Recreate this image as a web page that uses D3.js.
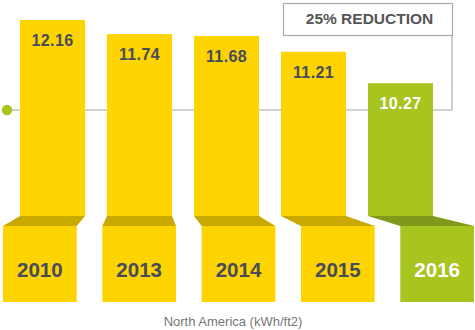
<!DOCTYPE html>
<html>
<head>
<meta charset="utf-8">
<script src="https://cdn.jsdelivr.net/npm/d3@7/dist/d3.min.js"></script>
<style>
  html, body { margin: 0; padding: 0; background: #fff; }
  svg { display: block; font-family: "Liberation Sans", Arial, Helvetica, sans-serif; }
</style>
</head>
<body>
<svg id="chart" width="475" height="330"></svg>
<script>
// Energy intensity, North America (kWh/ft2)
const years = ["2010", "2013", "2014", "2015", "2016"];
const values = [12.16, 11.74, 11.68, 11.21, 10.27];
const highlightYear = "2016";
const calloutText = "25% REDUCTION";
const captionText = "North America (kWh/ft2)";

const W = 475, H = 330;
const svg = d3.select("#chart");

const COLORS = {
  bar: "#FDD400", barFold: "#C9A800",
  hi: "#A8C41E", hiFold: "#7F991A",
  text: "#474B5B", line: "#A8A8A8", caption: "#777"
};

// Layout
const barBottom = 216, foldBottom = 226, boxBottom = 302;
const refY = 110;

// Upper bars and lower year tabs use two band scales
const xBar = d3.scaleBand().domain(years).range([20, 433]).paddingInner(0.253).paddingOuter(0);
const xTab = d3.scaleBand().domain(years).range([3, 474]).paddingInner(0.258).paddingOuter(0);
const y = d3.scaleLinear().domain([6.3, 12.4]).range([barBottom, 12]);

const data = years.map((yr, i) => ({ year: yr, value: values[i], hi: yr === highlightYear }));

// Reference line with the callout box (drawn behind the bars)
const box = { x0: 283, x1: 452, y0: 3, y1: 35 };
svg.append("path")
  .attr("d", `M7,${refY}H${box.x1}V${box.y1}`)
  .attr("fill", "none").attr("stroke", COLORS.line).attr("stroke-width", 1.2);
svg.append("rect")
  .attr("x", box.x0 + 0.5).attr("y", box.y0 + 0.5)
  .attr("width", box.x1 - box.x0).attr("height", box.y1 - box.y0)
  .attr("fill", "#fff").attr("stroke", COLORS.line).attr("stroke-width", 1.2);
svg.append("text")
  .attr("x", (box.x0 + box.x1) / 2 + 2).attr("y", 24)
  .attr("text-anchor", "middle")
  .attr("font-size", 15.5).attr("font-weight", "bold")
  .attr("fill", "#555")
  .text(calloutText);
svg.append("circle").attr("cx", 7).attr("cy", refY).attr("r", 5.2).attr("fill", COLORS.hi);

const g = svg.append("g").selectAll("g").data(data).join("g");

// Upper bar
g.append("rect")
  .attr("x", d => xBar(d.year))
  .attr("y", d => y(d.value))
  .attr("width", xBar.bandwidth())
  .attr("height", d => barBottom - y(d.value))
  .attr("fill", d => d.hi ? COLORS.hi : COLORS.bar);

// Folded strip connecting bar to the year tab
g.append("path")
  .attr("d", d => {
    const a0 = xBar(d.year), a1 = a0 + xBar.bandwidth();
    const b0 = xTab(d.year), b1 = b0 + xTab.bandwidth();
    return `M${a0},${barBottom}L${a1},${barBottom}L${b1},${foldBottom}L${b0},${foldBottom}Z`;
  })
  .attr("fill", d => d.hi ? COLORS.hiFold : COLORS.barFold);

// Year tab
g.append("rect")
  .attr("x", d => xTab(d.year))
  .attr("y", foldBottom)
  .attr("width", xTab.bandwidth())
  .attr("height", boxBottom - foldBottom)
  .attr("fill", d => d.hi ? COLORS.hi : COLORS.bar);

// Value labels
g.append("text")
  .attr("x", d => xBar(d.year) + xBar.bandwidth() / 2)
  .attr("y", d => y(d.value) + 26)
  .attr("text-anchor", "middle")
  .attr("font-size", 16).attr("font-weight", "bold")
  .attr("letter-spacing", 0.4)
  .attr("fill", d => d.hi ? "#fff" : COLORS.text)
  .text(d => d3.format(".2f")(d.value));

// Year labels
g.append("text")
  .attr("x", d => xTab(d.year) + xTab.bandwidth() / 2)
  .attr("y", 277)
  .attr("text-anchor", "middle")
  .attr("font-size", 20.5).attr("font-weight", "bold")
  .attr("fill", d => d.hi ? "#fff" : COLORS.text)
  .text(d => d.year);

// Caption
svg.append("text")
  .attr("x", 233).attr("y", 326)
  .attr("text-anchor", "middle")
  .attr("font-size", 13)
  .attr("fill", COLORS.caption)
  .text(captionText);
</script>
</body>
</html>
